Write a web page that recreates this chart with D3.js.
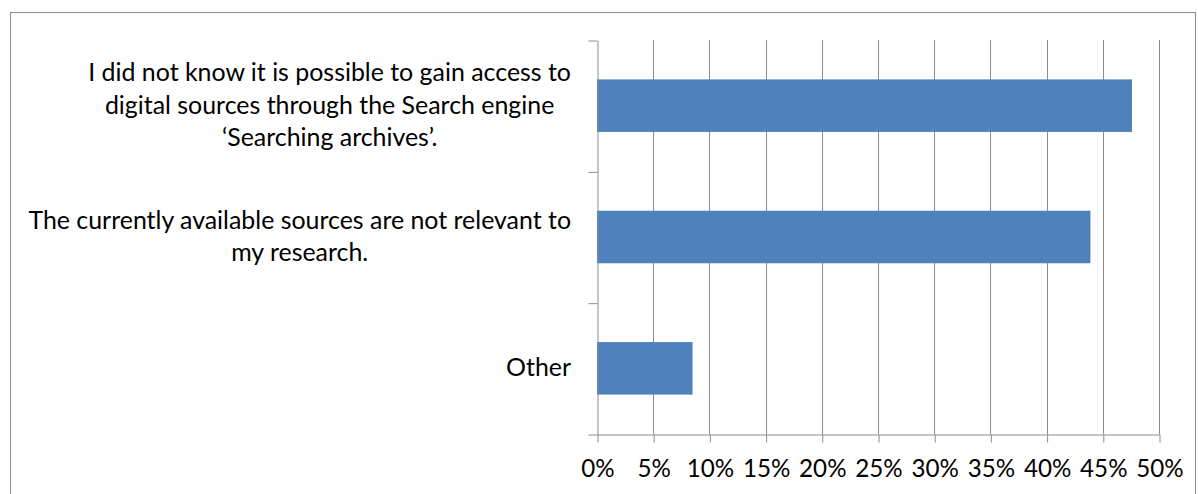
<!DOCTYPE html>
<html>
<head>
<meta charset="utf-8">
<script src="https://cdn.jsdelivr.net/npm/d3@7/dist/d3.min.js"></script>
<style>
  html, body { margin: 0; padding: 0; background: #ffffff; }
  svg { display: block; }
  text { font-family: Lato, "Open Sans", sans-serif; fill: #000; }
</style>
</head>
<body>
<svg id="chart" width="1198" height="494"></svg>
<script>
// ---- data ----
const categories = [
  "I did not know it is possible to gain access to digital sources through the Search engine \u2018Searching archives\u2019.",
  "The currently available sources are not relevant to my research.",
  "Other"
];
const categoryLines = [
  ["I did not know it is possible to gain access to", "digital sources through the Search engine", "\u2018Searching archives\u2019."],
  ["The currently available sources are not relevant to", "my research."],
  ["Other"]
];
const values = [0.476, 0.439, 0.085];
const xTicks = [0, 0.05, 0.10, 0.15, 0.20, 0.25, 0.30, 0.35, 0.40, 0.45, 0.50];

// ---- layout ----
const plot = { left: 597, right: 1159, top: 40, bottom: 434 };
const barColor = "#4F81BD";
const gridColor = "#8C8C8C";

const svg = d3.select("#chart");

// frame
svg.append("rect")
  .attr("x", 10.5).attr("y", 12.5)
  .attr("width", 1185).attr("height", 520)
  .attr("fill", "none").attr("stroke", "#8C8C8C").attr("stroke-width", 1);

const x = d3.scaleLinear().domain([0, 0.5]).range([plot.left, plot.right]);
const y = d3.scaleBand().domain(categories).range([plot.top, plot.bottom])
  .paddingInner(0.6).paddingOuter(0.3);
const yEdges = d3.scaleLinear().domain([0, categories.length]).range([plot.top, plot.bottom]);

// gridlines
svg.append("g").selectAll("line").data(xTicks.slice(1)).join("line")
  .attr("x1", d => Math.round(x(d)) + 0.5).attr("x2", d => Math.round(x(d)) + 0.5)
  .attr("y1", plot.top).attr("y2", plot.bottom)
  .attr("stroke", gridColor).attr("stroke-width", 1);

// bars
svg.append("g").selectAll("rect").data(categories).join("rect")
  .attr("x", x(0))
  .attr("y", d => y(d))
  .attr("width", (d, i) => x(values[i]) - x(0))
  .attr("height", y.bandwidth())
  .attr("fill", barColor);

// fit font size to the reference width of the longest label line
const probe = svg.append("text").attr("font-size", 20)
  .text(categoryLines[1][0]);
const probeW = probe.node().getComputedTextLength();
probe.remove();
const fs = 20 * 543 / probeW;

// x axis
const xAxis = d3.axisBottom(x).tickValues(xTicks).tickSize(8).tickSizeOuter(0)
  .tickFormat(d3.format(".0%")).tickPadding(0);
const gx = svg.append("g").attr("transform", `translate(0.5,${plot.bottom + 0.5})`).call(xAxis);
gx.select(".domain").attr("stroke", gridColor);
gx.selectAll(".tick line").attr("stroke", gridColor);
gx.selectAll(".tick text")
  .attr("font-family", "Lato, 'Open Sans', sans-serif")
  .attr("font-size", fs * 0.97).attr("fill", "#000")
  .attr("dy", null).attr("y", 42.5);

// y axis (category boundaries)
const yAxis = d3.axisLeft(yEdges).tickValues(d3.range(categories.length + 1))
  .tickSize(9).tickSizeOuter(0).tickFormat("");
const gy = svg.append("g").attr("transform", `translate(${plot.left + 0.5},0.5)`).call(yAxis);
gy.select(".domain").attr("stroke", gridColor);
gy.selectAll(".tick line").attr("stroke", gridColor);

// category labels: centered text blocks, right edge near axis
const lineH = 32.5;
const labelRight = 571;
const gl = svg.append("g");
categoryLines.forEach((lines, i) => {
  const t = gl.append("text").attr("font-size", fs).attr("text-anchor", "middle");
  const cy = y(categories[i]) + y.bandwidth() / 2;
  const firstBase = cy - (lines.length - 1) * lineH / 2 + fs * 0.32;
  lines.forEach((ln, j) => {
    t.append("tspan").attr("y", firstBase + j * lineH).text(ln);
  });
  const widths = [];
  t.selectAll("tspan").each(function () { widths.push(this.getComputedTextLength()); });
  const maxW = d3.max(widths);
  t.selectAll("tspan").attr("x", labelRight - maxW / 2);
});
</script>
</body>
</html>
